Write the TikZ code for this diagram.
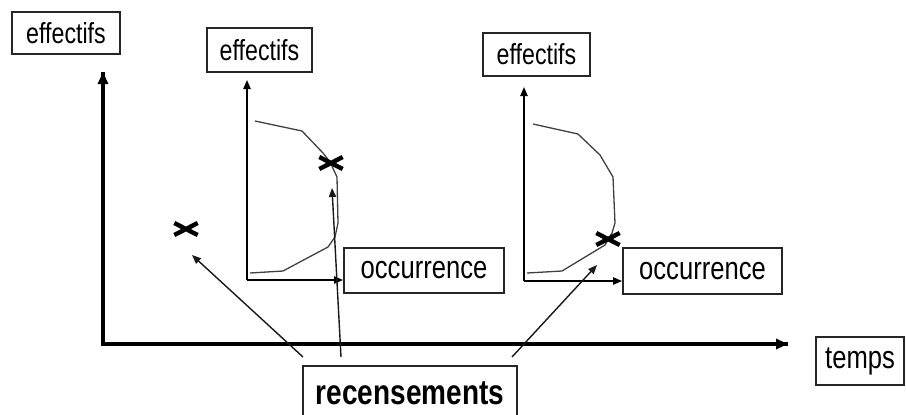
\documentclass[tikz,border=0pt]{standalone}
\usepackage{fontspec}
\setmainfont{Liberation Sans}
\usetikzlibrary{arrows.meta,shapes.misc}
\tikzset{
  label box/.style={draw=black!85, line width=0.9pt, inner sep=0pt, fill=white},
  big axis/.style={line width=1.8pt, -{Triangle[length=6pt,width=5pt]}},
  small axis/.style={line width=0.8pt, -{Triangle[length=4.5pt,width=3.6pt]}},
  curve/.style={line width=0.65pt, black!75, line join=round},
  pointer/.style={line width=0.7pt, black!90, -{Triangle[length=4.5pt,width=3.6pt]}},
  census mark/.style={cross out, draw=black, line width=2.2pt, minimum width=9.5pt, minimum height=3.8pt, inner sep=0pt}
}
\newcommand{\lbl}[2]{\scalebox{0.8}[1]{\fontsize{#1}{#1}\selectfont #2}}
\begin{document}
\begin{tikzpicture}[x=0.5pt, y=-0.5pt]
\useasboundingbox (0,0) rectangle (906,414);

% labels
\node[label box, minimum width=54pt, minimum height=21pt] (eff1) at (66,33) {\lbl{14.5pt}{effectifs}};
\node[label box, minimum width=52.5pt, minimum height=22pt] (eff2) at (259.5,50) {\lbl{14.5pt}{effectifs}};
\node[label box, minimum width=53.5pt, minimum height=21.5pt] (eff3) at (536.5,54.5) {\lbl{14.5pt}{effectifs}};
\node[label box, minimum width=80pt, minimum height=22.5pt] (occ1) at (424,270.5) {\lbl{16pt}{occurrence}};
\node[label box, minimum width=79.5pt, minimum height=23pt] (occ2) at (702.5,271) {\lbl{16pt}{occurrence}};
\node[label box, minimum width=44pt, minimum height=24pt] (temps) at (860,361) {\lbl{16pt}{temps}};
\node[label box, minimum width=107pt, minimum height=27pt] (rec) at (410,393) {\lbl{17.5pt}{\bfseries recensements}};

% main time axis
\coordinate (O) at (103,344);
\coordinate (Ytop) at (103,72);
\coordinate (Xend) at (788,344);
\draw[line width=1.8pt, line join=miter] (Ytop) -- (O) -- (Xend);
\draw[big axis] (O) -- (Ytop);
\draw[big axis] (O) -- (Xend);

% first local graph
\coordinate (O2) at (247,280);
\coordinate (Y2) at (247,80);
\draw[small axis] (O2) -- (Y2);
\draw[small axis] (O2) -- (O2 -| occ1.west);
\draw[curve] (255,121) -- (302,131) -- (323,153) -- (330,162) -- (337,177) -- (338,223)
  -- (335,237) -- (328,247) -- (283,271) -- (250,273);

% second local graph
\coordinate (O3) at (524,281);
\coordinate (Y3) at (524,87);
\draw[small axis] (O3) -- (Y3);
\draw[small axis] (O3) -- (O3 -| occ2.west);
\draw[curve] (533,124) -- (578,134) -- (600,155) -- (613,177) -- (615,223) -- (612,233)
  -- (605,245) -- (562,271) -- (527,273);

% census points
\node[census mark] (m0) at (186,229) {};
\node[census mark] (m1) at (331,163) {};
\node[census mark] (m2) at (608,239) {};

% pointers from the census label
\coordinate (r1) at (303,357);
\coordinate (r2) at (341,357);
\coordinate (r3) at (512,357);
\coordinate (t0) at (192,255);
\coordinate (t1) at (332,188);
\coordinate (t2) at (597,265);
\draw[pointer] (r1) -- (t0);
\draw[pointer] (r2) -- (t1);
\draw[pointer] (r3) -- (t2);
\end{tikzpicture}
\end{document}
